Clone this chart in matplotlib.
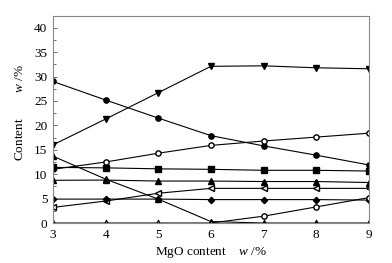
import matplotlib
matplotlib.use('Agg')
import matplotlib.pyplot as plt
from matplotlib.ticker import MultipleLocator

plt.rcParams['font.family'] = 'Liberation Serif'
plt.rcParams['mathtext.fontset'] = 'custom'
plt.rcParams['mathtext.it'] = 'Liberation Serif:italic'
plt.rcParams['mathtext.rm'] = 'Liberation Serif'

# MgO content (x axis)
mgo = [3, 4, 5, 6, 7, 8, 9]

down_tri = [16.0, 21.3, 26.7, 32.1, 32.2, 31.8, 31.6]
filled_circ = [29.0, 25.2, 21.5, 17.9, 15.8, 13.9, 11.9]
open_circ = [11.0, 12.5, 14.3, 15.9, 16.8, 17.6, 18.4]
squares = [11.4, 11.3, 11.1, 11.0, 10.8, 10.8, 10.65]
up_tri = [8.75, 8.8, 8.6, 8.6, 8.5, 8.5, 8.3]
left_tri = [3.2, 4.5, 6.1, 7.1, 7.1, 7.1, 7.1]
diamonds = [4.9, 4.9, 4.9, 4.8, 4.8, 4.8, 4.7]
falling = [13.7, 9.0, 4.9, 0.3, 0.0, 0.0, 0.0]
rising = [0.0, 0.0, 0.0, 0.0, 1.4, 3.3, 5.2]

fig = plt.figure(figsize=(3.92, 2.63), dpi=100)
ax = fig.add_axes([0.135, 0.152, 0.806, 0.787])

kw = dict(color='black', lw=0.8, ms=3.8)
ax.plot(mgo, down_tri, marker='v', **kw)
ax.plot(mgo, filled_circ, marker='o', **kw)
ax.plot(mgo, open_circ, marker='o', mfc='white', **kw)
ax.plot(mgo, squares, marker='s', **kw)
ax.plot(mgo, up_tri, marker='^', **kw)
ax.plot(mgo, left_tri, marker='<', mfc='white', **kw)
ax.plot(mgo, diamonds, marker='D', ms=3.2, color='black', lw=0.8)
ax.plot(mgo, falling, marker='^', **kw)
ax.plot(mgo, rising, color='black', lw=0.8)
ax.plot(mgo[:4], rising[:4], ls='none', marker='^', mfc='white', mec='black', ms=3.8)
ax.plot(mgo[4:], rising[4:], ls='none', marker='o', mfc='white', mec='black', ms=3.8)

ax.set_xlim(3, 9)
ax.set_ylim(0, 42.4)
ax.xaxis.set_major_locator(MultipleLocator(1))
ax.yaxis.set_minor_locator(MultipleLocator(2.5))
ax.set_yticks(range(0, 41, 5))
ax.tick_params(direction='in', labelsize=9.5, length=3, width=0.6, color='#555555', pad=4)
ax.tick_params(which='minor', direction='in', length=1.8, width=0.6, color='#555555')

for s in ax.spines.values():
    s.set_color('#888888')
    s.set_linewidth(0.8)

ax.set_xlabel('MgO content    $w$ /%', fontsize=9.5, labelpad=3)
ax.set_ylabel('Content        $w$ /%', fontsize=9.5)
ax.yaxis.set_label_coords(-0.085, 0.535)

fig.savefig('out.png', dpi=100)
